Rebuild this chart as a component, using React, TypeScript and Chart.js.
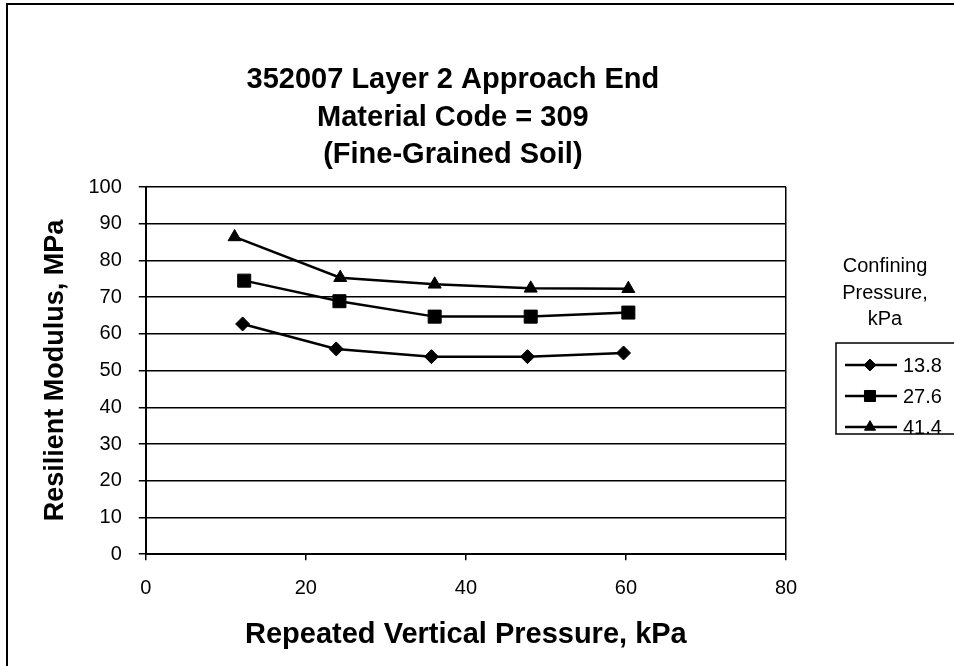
import React, { useEffect, useRef } from 'react';
import { Chart, registerables } from 'chart.js';
import { drawPoint } from 'chart.js/helpers';

Chart.register(...registerables);

const titleLines = ['352007 Layer 2 Approach End', 'Material Code = 309', '(Fine-Grained Soil)'];
const xAxisTitle = 'Repeated Vertical Pressure, kPa';
const yAxisTitle = 'Resilient Modulus, MPa';
const legendHeading = ['Confining', 'Pressure,', 'kPa'];
const seriesLabels = ['13.8', '27.6', '41.4'];

const pressure138 = [12.1, 23.8, 35.7, 47.7, 59.7];
const modulus138 = [62.7, 55.9, 53.8, 53.8, 54.8];
const pressure276 = [12.3, 24.2, 36.1, 48.1, 60.3];
const modulus276 = [74.5, 68.9, 64.7, 64.7, 65.8];
const pressure414 = [11.1, 24.3, 36.1, 48.1, 60.3];
const modulus414 = [86.4, 75.3, 73.5, 72.4, 72.3];

const xMin = 0;
const xMax = 80;
const xStep = 20;
const yMin = 0;
const yMax = 100;
const yStep = 10;

const FONT = '"Liberation Sans", Arial, Helvetica, sans-serif';

const toPoints = (xs: number[], ys: number[]) => xs.map((x, i) => ({ x, y: ys[i] }));

const headerPlugin = {
  id: 'headerPlugin',
  afterDraw(chart: any) {
    const { ctx, chartArea } = chart;
    ctx.save();
    ctx.fillStyle = '#000';
    ctx.font = `bold 29px ${FONT}`;
    ctx.textAlign = 'center';
    ctx.textBaseline = 'alphabetic';
    const cx = (chartArea.left + chartArea.right) / 2 - 13;
    titleLines.forEach((line, i) => {
      ctx.fillText(line, cx, chartArea.top - 99 + i * 37.5);
    });
    ctx.restore();
  },
};

const sideLegendPlugin = {
  id: 'sideLegendPlugin',
  afterDraw(chart: any) {
    const { ctx, chartArea } = chart;
    const x0 = chartArea.right + 50;
    const top = chartArea.top;
    ctx.save();
    ctx.fillStyle = '#000';
    ctx.font = `20px ${FONT}`;
    ctx.textAlign = 'center';
    ctx.textBaseline = 'alphabetic';
    const hx = x0 + 49;
    legendHeading.forEach((line, i) => {
      ctx.fillText(line, hx, top + 85 + i * 26.5);
    });
    ctx.strokeStyle = '#000';
    ctx.lineWidth = 1.5;
    ctx.strokeRect(x0, top + 156, 160, 91);
    ctx.textAlign = 'left';
    ctx.textBaseline = 'middle';
    chart.data.datasets.forEach((ds: any, i: number) => {
      const y = top + 178 + i * 31;
      ctx.beginPath();
      ctx.strokeStyle = '#000';
      ctx.lineWidth = 2.5;
      ctx.moveTo(x0 + 9, y);
      ctx.lineTo(x0 + 61, y);
      ctx.stroke();
      ctx.fillStyle = '#000';
      ctx.strokeStyle = '#000';
      ctx.lineWidth = 1;
      drawPoint(
        ctx,
        { pointStyle: ds.pointStyle, rotation: 0, borderWidth: 1, radius: ds.pointRadius * 0.85 },
        x0 + 34,
        y
      );
      ctx.fillStyle = '#000';
      ctx.fillText(ds.label, x0 + 67, y + 1);
    });
    ctx.restore();
  },
};

export default function App() {
  const canvasRef = useRef<HTMLCanvasElement | null>(null);

  useEffect(() => {
    if (!canvasRef.current) return;
    Chart.defaults.font.family = FONT;
    const markerStyles = ['rectRot', 'rect', 'triangle'];
    const markerRadius = [7, 9.2, 7.5];
    const series = [
      toPoints(pressure138, modulus138),
      toPoints(pressure276, modulus276),
      toPoints(pressure414, modulus414),
    ];
    const chart = new Chart(canvasRef.current, {
      type: 'line',
      data: {
        datasets: series.map((pts, i) => ({
          label: seriesLabels[i],
          data: pts,
          borderColor: '#000',
          backgroundColor: '#000',
          borderWidth: 2.5,
          pointStyle: markerStyles[i],
          pointRadius: markerRadius[i],
          pointBackgroundColor: '#000',
          pointBorderColor: '#000',
          pointBorderWidth: 1,
          tension: 0,
          fill: false,
        })),
      },
      options: {
        animation: false,
        responsive: false,
        devicePixelRatio: 1,
        layout: { padding: { left: 39, right: 168, top: 187, bottom: 0 } },
        plugins: {
          legend: { display: false },
          tooltip: { enabled: false },
          title: { display: false },
        },
        scales: {
          x: {
            type: 'linear',
            min: xMin,
            max: xMax,
            ticks: {
              stepSize: xStep,
              padding: 16,
              color: '#000',
              font: { size: 20 },
              maxRotation: 0,
            },
            grid: {
              color: (c: any) => (c.tick && c.tick.value === xMax ? '#000' : 'rgba(0,0,0,0)'),
              lineWidth: 1.5,
              tickLength: 6,
              tickColor: '#000',
              tickWidth: 1.5,
            },
            border: { display: true, color: '#000', width: 2 },
            title: {
              display: true,
              text: xAxisTitle,
              color: '#000',
              font: { size: 29, weight: 'bold' },
              padding: { top: 1, bottom: 14 },
            },
          },
          y: {
            type: 'linear',
            min: yMin,
            max: yMax,
            ticks: {
              stepSize: yStep,
              padding: 17,
              color: '#000',
              font: { size: 20 },
            },
            grid: {
              color: '#000',
              lineWidth: 1.5,
              tickLength: 7,
              tickColor: '#000',
              tickWidth: 1.5,
            },
            border: { display: true, color: '#000', width: 2 },
            title: {
              display: true,
              text: yAxisTitle,
              color: '#000',
              font: { size: 27, weight: 'bold' },
              padding: { top: 0, bottom: 0 },
            },
          },
        },
      },
      plugins: [headerPlugin, sideLegendPlugin],
    } as any);
    return () => chart.destroy();
  }, []);

  return (
    <div
      style={{
        position: 'absolute',
        left: 0,
        top: 0,
        width: 954,
        height: 666,
        overflow: 'hidden',
        background: '#fff',
      }}
    >
      <canvas ref={canvasRef} width={954} height={666} style={{ position: 'absolute', left: 0, top: 0 }} />
      <div
        style={{
          position: 'absolute',
          left: 6,
          top: 3,
          width: 1000,
          height: 700,
          borderLeft: '2px solid #000',
          borderTop: '2px solid #000',
          pointerEvents: 'none',
        }}
      />
    </div>
  );
}
